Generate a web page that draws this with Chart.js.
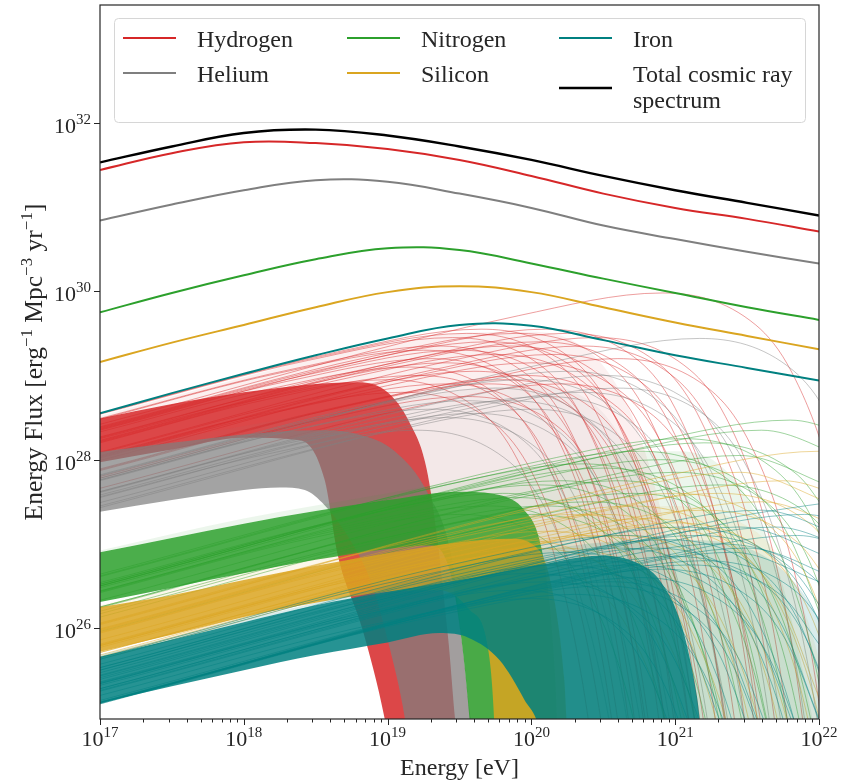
<!DOCTYPE html>
<html>
<head>
<meta charset="utf-8">
<script src="https://cdn.jsdelivr.net/npm/chart.js@4.4.1/dist/chart.umd.min.js"></script>
<style>
  html, body { margin: 0; padding: 0; background: #fff; }
  #chart { display: block; }
</style>
</head>
<body>
<canvas id="chart" width="841" height="783"></canvas>
<script>
// ------------------------------------------
// DATA (all values are log10: energy in eV, flux in erg^-1 Mpc^-3 yr^-1)
// ------------------------------------------

// smooth spectra
const logEnergy    = [17, 17.5, 18, 18.5, 19, 19.5, 20, 20.5, 21, 21.5, 22];
const totalFlux    = [31.53, 31.72, 31.88, 31.92, 31.85, 31.72, 31.56, 31.37, 31.20, 31.05, 30.90];
const hydrogenFlux = [31.44, 31.64, 31.77, 31.76, 31.69, 31.56, 31.37, 31.16, 30.99, 30.86, 30.71];
const heliumFlux   = [30.84, 31.03, 31.20, 31.32, 31.30, 31.16, 30.99, 30.78, 30.62, 30.47, 30.33];
const nitrogenFlux = [29.75, 29.98, 30.19, 30.38, 30.51, 30.49, 30.33, 30.15, 29.98, 29.81, 29.66];
const siliconFlux  = [29.16, 29.39, 29.60, 29.81, 29.99, 30.06, 29.99, 29.81, 29.63, 29.47, 29.31];
const ironFlux     = [28.55, 28.79, 29.02, 29.24, 29.44, 29.60, 29.59, 29.42, 29.24, 29.09, 28.94];

// where the scattered single-source spectra of each element are spread: outer outline
const hydrogenHalo = [17,28.52, 18,28.98, 18.5,29.2, 19,29.38, 19.5,29.5, 20,29.52, 20.3,29.4, 20.55,29.0, 20.75,28.3, 20.9,27.4, 21.05,26.1, 21.15,24.9, 22.5,23.5];
const heliumHalo   = [17,28.1, 18,28.4, 18.5,28.55, 19,28.7, 19.5,28.82, 20,28.88, 20.3,28.8, 20.55,28.45, 20.75,27.8, 20.9,26.8, 21.05,25.5, 21.15,24.5, 22.5,23.5];
const nitrogenHalo = [17,26.92, 18,27.3, 19,27.6, 19.5,27.75, 20,27.9, 20.5,28.05, 21,28.1, 21.3,27.95, 21.55,27.4, 21.75,26.5, 21.9,25.4, 22.0,24.6, 22.5,23.5];
const siliconHalo  = [17,26.27, 18,26.65, 19,26.97, 19.5,27.1, 20,27.25, 20.5,27.4, 21,27.45, 21.4,27.3, 21.7,26.9, 21.9,26.2, 22.05,25.3, 22.15,24.5, 22.5,23.5];
const ironHalo     = [17,25.68, 18,26.1, 19,26.5, 19.5,26.7, 20,26.9, 20.5,27.02, 21,27.05, 21.5,26.95, 21.8,26.6, 22.0,26.1, 22.2,25.3, 22.5,23.5];

// dense bundles of single-source spectra: upper and lower outline, pairs of (logE, logF)
const hydrogenBandTop    = [17,28.49, 17.5,28.66, 18,28.80, 18.5,28.90, 18.8,28.92, 19.0,28.80, 19.15,28.45, 19.27,27.9, 19.35,27.0, 19.42,25.9, 19.5,24.6, 22.5,24.0];
const hydrogenBandBottom = [17,27.97, 17.5,28.12, 18,28.26, 18.389,28.23, 18.5625,27.76, 18.653,26.87, 18.826,25.98, 18.979,24.93, 19.028,24.43, 22.5,23.9];
const heliumBandTop      = [17,28.09, 17.5,28.20, 18,28.30, 18.5,28.35, 18.8,28.30, 19.05,28.10, 19.28,27.60, 19.45,26.80, 19.52,25.80, 19.6,24.80, 22.5,24.0];
const heliumBandBottom   = [17,27.38, 17.5,27.52, 18,27.64, 18.25,27.67, 18.424,27.64, 18.562,27.46, 18.72,27.10, 18.88,26.57, 19.0,25.86, 19.12,24.93, 19.16,24.43, 22.5,23.9];
const nitrogenBandTop    = [17,26.90, 17.5,27.07, 18,27.24, 18.5,27.39, 19,27.52, 19.5,27.62, 19.778,27.58, 19.951,27.40, 20.056,27.05, 20.125,26.33, 20.167,25.38, 20.194,24.43, 22.5,24.0];
const nitrogenBandBottom = [17,26.31, 17.5,26.48, 18,26.65, 18.5,26.81, 19,26.94, 19.292,26.98, 19.431,26.69, 19.514,25.86, 19.569,24.93, 19.59,24.43, 22.5,23.9];
const siliconBandTop     = [17,26.25, 17.5,26.39, 18,26.57, 18.5,26.74, 19,26.89, 19.5,27.02, 19.847,27.06, 20.056,26.92, 20.16,26.33, 20.229,25.38, 20.264,24.43, 22.5,24.0];
const siliconBandBottom  = [17,25.72, 17.5,25.92, 18,26.13, 18.5,26.30, 19,26.43, 19.361,26.45, 19.569,26.22, 19.70,25.74, 19.74,24.93, 19.75,24.43, 22.5,23.9];
const ironBandTop        = [17,25.66, 17.5,25.86, 18,26.07, 18.5,26.27, 19,26.43, 19.5,26.57, 20.056,26.75, 20.472,26.86, 20.7,26.8, 20.9,26.55, 21.05,26.0, 21.15,25.2, 21.2,24.6, 22.5,24.0];
const ironBandBottom     = [17,25.11, 17.5,25.31, 18,25.50, 18.5,25.68, 19,25.83, 19.361,25.94, 19.569,25.88, 19.778,25.62, 19.951,25.15, 20.056,24.79, 20.09,24.43, 22.5,23.9];

// the spread-out single-source spectra (each one a list of logE, logF pairs)
const hydrogenArcs = [
  [17,28.42, 19.91,29.71, 20.91,29.98, 21.56,29.60, 21.81,29.04, 22.06,27.95, 22.26,26.44],
  [17,28.35, 19.1,29.28, 20.1,29.55, 20.75,29.17, 21.0,28.61, 21.25,27.52, 21.45,26.01, 21.65,23.55],
  [17,28.39, 18.9,29.23, 19.9,29.5, 20.55,29.12, 20.8,28.56, 21.05,27.47, 21.25,25.96, 21.45,23.5],
  [17,28.38, 18.7,29.13, 19.7,29.4, 20.35,29.02, 20.6,28.46, 20.85,27.37, 21.05,25.86, 21.25,23.4],
  [17,28.37, 18.5,29.03, 19.5,29.3, 20.15,28.92, 20.4,28.36, 20.65,27.27, 20.85,25.76, 21.05,23.3],
  [17,28.04, 19.35,29.08, 20.35,29.35, 21.0,28.97, 21.25,28.41, 21.5,27.32, 21.7,25.81, 21.9,23.35],
  [17,28.36, 18.3,28.93, 19.3,29.2, 19.95,28.82, 20.2,28.26, 20.45,27.17, 20.65,25.66, 20.85,23.2],
  [17,28.08, 18.6,28.78, 19.6,29.05, 20.25,28.67, 20.5,28.11, 20.75,27.02, 20.95,25.51, 21.15,23.05],
  [17,27.99, 19.0,28.88, 20.0,29.15, 20.65,28.77, 20.9,28.21, 21.15,27.12, 21.35,25.61, 21.55,23.15],
  [17,28.02, 18.4,28.63, 19.4,28.9, 20.05,28.52, 20.3,27.96, 20.55,26.87, 20.75,25.36, 20.95,22.9],
  [17,27.89, 18.8,28.68, 19.8,28.95, 20.45,28.57, 20.7,28.01, 20.95,26.92, 21.15,25.41, 21.35,22.95],
  [17,28.2, 18.2,28.73, 19.2,29.0, 19.85,28.62, 20.1,28.06, 20.35,26.97, 20.55,25.46, 20.75,23.0],
  [17,27.78, 19.6,28.93, 20.6,29.2, 21.25,28.82, 21.5,28.26, 21.75,27.17, 21.95,25.66, 22.15,23.2],
  [17,28.05, 18.1,28.53, 19.1,28.8, 19.75,28.42, 20.0,27.86, 20.25,26.77, 20.45,25.26, 20.65,22.8],
  [17,28.54, 18.45,29.18, 19.45,29.45, 20.1,29.07, 20.35,28.51, 20.6,27.42, 20.8,25.91, 21.0,23.45],
  [17,28.21, 18.75,28.98, 19.75,29.25, 20.4,28.87, 20.65,28.31, 20.9,27.22, 21.1,25.71, 21.3,23.25],
  [17,27.66, 19.2,28.63, 20.2,28.9, 20.85,28.52, 21.1,27.96, 21.35,26.87, 21.55,25.36, 21.75,22.9],
  [17,28.25, 18.0,28.68, 19.0,28.95, 19.65,28.57, 19.9,28.01, 20.15,26.92, 20.35,25.41, 20.55,22.95],
  [17,28.55, 18.65,29.28, 19.65,29.55, 20.3,29.17, 20.55,28.61, 20.8,27.52, 21.0,26.01, 21.2,23.55],
  [17,28.49, 18.35,29.08, 19.35,29.35, 20.0,28.97, 20.25,28.41, 20.5,27.32, 20.7,25.81, 20.9,23.35],
  [17,28.22, 19.05,29.13, 20.05,29.4, 20.7,29.02, 20.95,28.46, 21.2,27.37, 21.4,25.86, 21.6,23.4],
  [17,27.8, 18.55,28.48, 19.55,28.75, 20.2,28.37, 20.45,27.81, 20.7,26.72, 20.9,25.21, 21.1,22.75],
  [17,28.48, 18.25,29.03, 19.25,29.3, 19.9,28.92, 20.15,28.36, 20.4,27.27, 20.6,25.76, 20.8,23.3],
  [17,28.26, 18.85,29.08, 19.85,29.35, 20.5,28.97, 20.75,28.41, 21.0,27.32, 21.2,25.81, 21.4,23.35],
  [17,28.23, 19.25,29.23, 20.25,29.5, 20.9,29.12, 21.15,28.56, 21.4,27.47, 21.6,25.96, 21.8,23.5],
  [17,28.33, 18.15,28.83, 19.15,29.1, 19.8,28.72, 20.05,28.16, 20.3,27.07, 20.5,25.56, 20.7,23.1],
  [17,27.87, 18.95,28.73, 19.95,29.0, 20.6,28.62, 20.85,28.06, 21.1,26.97, 21.3,25.46, 21.5,23.0],
  [17,28.09, 19.45,29.18, 20.45,29.45, 21.1,29.07, 21.35,28.51, 21.6,27.42, 21.8,25.91, 22.0,23.45],
  [17,28.27, 18.4,28.88, 19.4,29.15, 20.05,28.77, 20.3,28.21, 20.55,27.12, 20.75,25.61, 20.95,23.15],
  [17,27.88, 18.7,28.63, 19.7,28.9, 20.35,28.52, 20.6,27.96, 20.85,26.87, 21.05,25.36, 21.25,22.9],
  [17,28.03, 19.15,28.98, 20.15,29.25, 20.8,28.87, 21.05,28.31, 21.3,27.22, 21.5,25.71, 21.7,23.25],
  [17,28.55, 18.55,29.23, 19.55,29.5, 20.2,29.12, 20.45,28.56, 20.7,27.47, 20.9,25.96, 21.1,23.5]
];
const heliumArcs = [
  [17,27.76, 20.17,29.17, 21.17,29.44, 21.82,29.06, 22.07,28.5, 22.32,27.41],
  [17,27.55, 19.1,28.48, 20.1,28.75, 20.75,28.37, 21.0,27.81, 21.25,26.72, 21.45,25.21, 21.65,22.75],
  [17,27.61, 18.85,28.43, 19.85,28.7, 20.5,28.32, 20.75,27.76, 21.0,26.67, 21.2,25.16, 21.4,22.7],
  [17,27.49, 19.35,28.53, 20.35,28.8, 21.0,28.42, 21.25,27.86, 21.5,26.77, 21.7,25.26, 21.9,22.8],
  [17,27.58, 18.6,28.28, 19.6,28.55, 20.25,28.17, 20.5,27.61, 20.75,26.52, 20.95,25.01, 21.15,22.55],
  [17,27.62, 18.4,28.23, 19.4,28.5, 20.05,28.12, 20.3,27.56, 20.55,26.47, 20.75,24.96, 20.95,22.5],
  [17,27.43, 19.6,28.58, 20.6,28.85, 21.25,28.47, 21.5,27.91, 21.75,26.82, 21.95,25.31, 22.15,22.85],
  [17,27.56, 18.2,28.08, 19.2,28.35, 19.85,27.97, 20.1,27.41, 20.35,26.32, 20.55,24.81, 20.75,22.35],
  [17,27.82, 18.95,28.68, 19.95,28.95, 20.6,28.57, 20.85,28.01, 21.1,26.92, 21.3,25.41, 21.5,22.95],
  [17,27.78, 19.25,28.78, 20.25,29.05, 20.9,28.67, 21.15,28.11, 21.4,27.02, 21.6,25.51, 21.8,23.05],
  [17,27.81, 18.75,28.58, 19.75,28.85, 20.4,28.47, 20.65,27.91, 20.9,26.82, 21.1,25.31, 21.3,22.85],
  [17,27.62, 19.5,28.73, 20.5,29.0, 21.15,28.62, 21.4,28.06, 21.65,26.97, 21.85,25.46, 22.05,23.0],
  [17,27.75, 18.55,28.43, 19.55,28.7, 20.2,28.32, 20.45,27.76, 20.7,26.67, 20.9,25.16, 21.1,22.7],
  [17,27.45, 19.0,28.33, 20.0,28.6, 20.65,28.22, 20.9,27.66, 21.15,26.57, 21.35,25.06, 21.55,22.6],
  [17,27.76, 18.3,28.33, 19.3,28.6, 19.95,28.22, 20.2,27.66, 20.45,26.57, 20.65,25.06, 20.85,22.6]
];
const nitrogenArcs = [
  [17,26.5, 20.8,28.2, 21.8,28.47, 22.45,28.09],
  [17,26.5, 20.2,27.93, 21.2,28.2, 21.85,27.82, 22.1,27.26],
  [17,26.44, 19.9,27.73, 20.9,28.0, 21.55,27.62, 21.8,27.06, 22.05,25.97],
  [17,26.52, 19.5,27.63, 20.5,27.9, 21.15,27.52, 21.4,26.96, 21.65,25.87, 21.85,24.36],
  [17,26.5, 19.2,27.48, 20.2,27.75, 20.85,27.37, 21.1,26.81, 21.35,25.72, 21.55,24.21],
  [17,26.13, 19.7,27.33, 20.7,27.6, 21.35,27.22, 21.6,26.66, 21.85,25.57, 22.05,24.06],
  [17,26.44, 18.9,27.28, 19.9,27.55, 20.55,27.17, 20.8,26.61, 21.05,25.52, 21.25,24.01],
  [17,26.2, 19.0,27.08, 20.0,27.35, 20.65,26.97, 20.9,26.41, 21.15,25.32, 21.35,23.81],
  [17,26.25, 20.0,27.58, 21.0,27.85, 21.65,27.47, 21.9,26.91, 22.15,25.82],
  [17,26.43, 18.7,27.18, 19.7,27.45, 20.35,27.07, 20.6,26.51, 20.85,25.42, 21.05,23.91],
  [17,26.17, 19.4,27.23, 20.4,27.5, 21.05,27.12, 21.3,26.56, 21.55,25.47, 21.75,23.96],
  [17,26.24, 20.45,27.78, 21.45,28.05, 22.1,27.67],
  [17,26.42, 18.5,27.08, 19.5,27.35, 20.15,26.97, 20.4,26.41, 20.65,25.32, 20.85,23.81],
  [17,26.52, 19.05,27.43, 20.05,27.7, 20.7,27.32, 20.95,26.76, 21.2,25.67, 21.4,24.16],
  [17,26.48, 20.6,28.08, 21.6,28.35, 22.25,27.97],
  [17,26.61, 19.75,27.83, 20.75,28.1, 21.4,27.72, 21.65,27.16, 21.9,26.07, 22.1,24.56],
  [17,26.64, 19.35,27.68, 20.35,27.95, 21.0,27.57, 21.25,27.01, 21.5,25.92, 21.7,24.41],
  [17,26.62, 20.05,27.98, 21.05,28.25, 21.7,27.87, 21.95,27.31, 22.2,26.22],
  [17,26.54, 18.8,27.33, 19.8,27.6, 20.45,27.22, 20.7,26.66, 20.95,25.57, 21.15,24.06],
  [17,26.33, 19.6,27.48, 20.6,27.75, 21.25,27.37, 21.5,26.81, 21.75,25.72, 21.95,24.21],
  [17,25.96, 20.3,27.43, 21.3,27.7, 21.95,27.32, 22.2,26.76],
  [17,26.25, 19.1,27.18, 20.1,27.45, 20.75,27.07, 21.0,26.51, 21.25,25.42, 21.45,23.91]
];
const siliconArcs = [
  [17,26.05, 21.0,27.83, 22.0,28.1, 22.65,27.72],
  [17,25.86, 20.3,27.33, 21.3,27.6, 21.95,27.22, 22.2,26.66],
  [17,25.79, 19.8,27.03, 20.8,27.3, 21.45,26.92, 21.7,26.36, 21.95,25.27, 22.15,23.76],
  [17,25.77, 19.4,26.83, 20.4,27.1, 21.05,26.72, 21.3,26.16, 21.55,25.07, 21.75,23.56],
  [17,25.8, 19.0,26.68, 20.0,26.95, 20.65,26.57, 20.9,26.01, 21.15,24.92, 21.35,23.41],
  [17,25.65, 20.0,26.98, 21.0,27.25, 21.65,26.87, 21.9,26.31, 22.15,25.22],
  [17,25.68, 19.6,26.83, 20.6,27.1, 21.25,26.72, 21.5,26.16, 21.75,25.07, 21.95,23.56],
  [17,25.71, 19.2,26.68, 20.2,26.95, 20.85,26.57, 21.1,26.01, 21.35,24.92, 21.55,23.41],
  [17,25.63, 20.6,27.23, 21.6,27.5, 22.25,27.12],
  [17,25.79, 18.8,26.58, 19.8,26.85, 20.45,26.47, 20.7,25.91, 20.95,24.82, 21.15,23.31],
  [17,25.97, 19.5,27.08, 20.5,27.35, 21.15,26.97, 21.4,26.41, 21.65,25.32, 21.85,23.81],
  [17,25.99, 20.0,27.33, 21.0,27.6, 21.65,27.22, 21.9,26.66, 22.15,25.57],
  [17,26.06, 19.3,27.08, 20.3,27.35, 20.95,26.97, 21.2,26.41, 21.45,25.32, 21.65,23.81],
  [17,25.81, 20.75,27.48, 21.75,27.75, 22.4,27.37],
  [17,25.98, 19.7,27.18, 20.7,27.45, 21.35,27.07, 21.6,26.51, 21.85,25.42, 22.05,23.91],
  [17,25.71, 20.2,27.13, 21.2,27.4, 21.85,27.02, 22.1,26.46],
  [17,25.95, 19.1,26.88, 20.1,27.15, 20.75,26.77, 21.0,26.21, 21.25,25.12, 21.45,23.61],
  [17,26.04, 20.45,27.58, 21.45,27.85, 22.1,27.47],
  [17,25.66, 19.85,26.93, 20.85,27.2, 21.5,26.82, 21.75,26.26, 22.0,25.17],
  [17,25.94, 18.9,26.78, 19.9,27.05, 20.55,26.67, 20.8,26.11, 21.05,25.02, 21.25,23.51]
];
const ironArcs = [
  [17,25.36, 21.3,27.28, 22.3,27.55],
  [17,25.28, 20.7,26.93, 21.7,27.2, 22.35,26.82],
  [17,25.26, 20.3,26.73, 21.3,27.0, 21.95,26.62, 22.2,26.06],
  [17,25.25, 20.0,26.58, 21.0,26.85, 21.65,26.47, 21.9,25.91, 22.15,24.82],
  [17,25.28, 19.7,26.48, 20.7,26.75, 21.35,26.37, 21.6,25.81, 21.85,24.72],
  [17,25.32, 19.4,26.38, 20.4,26.65, 21.05,26.27, 21.3,25.71, 21.55,24.62],
  [17,25.35, 19.1,26.28, 20.1,26.55, 20.75,26.17, 21.0,25.61, 21.25,24.52],
  [17,25.12, 20.5,26.68, 21.5,26.95, 22.15,26.57],
  [17,25.14, 19.9,26.43, 20.9,26.7, 21.55,26.32, 21.8,25.76, 22.05,24.67],
  [17,25.12, 19.5,26.23, 20.5,26.5, 21.15,26.12, 21.4,25.56, 21.65,24.47],
  [17,25.11, 20.2,26.53, 21.2,26.8, 21.85,26.42, 22.1,25.86],
  [17,25.34, 18.9,26.18, 19.9,26.45, 20.55,26.07, 20.8,25.51, 21.05,24.42],
  [17,25.11, 19.3,26.13, 20.3,26.4, 20.95,26.02, 21.2,25.46, 21.45,24.37],
  [17,25.11, 20.85,26.83, 21.85,27.1, 22.5,26.72],
  [17,25.11, 19.75,26.33, 20.75,26.6, 21.4,26.22, 21.65,25.66, 21.9,24.57],
  [17,25.2, 19.0,26.08, 20.0,26.35, 20.65,25.97, 20.9,25.41, 21.15,24.32],
  [17,25.43, 20.15,26.83, 21.15,27.1, 21.8,26.72, 22.05,26.16],
  [17,25.53, 19.6,26.68, 20.6,26.95, 21.25,26.57, 21.5,26.01, 21.75,24.92, 21.95,23.41],
  [17,25.12, 20.4,26.63, 21.4,26.9, 22.05,26.52],
  [17,25.5, 19.2,26.48, 20.2,26.75, 20.85,26.37, 21.1,25.81, 21.35,24.72],
  [17,25.41, 19.85,26.68, 20.85,26.95, 21.5,26.57, 21.75,26.01, 22.0,24.92],
  [17,25.53, 20.6,27.13, 21.6,27.4, 22.25,27.02],
  [17,25.1, 19.55,26.28, 20.55,26.55, 21.2,26.17, 21.45,25.61, 21.7,24.52],
  [17,25.57, 20.05,26.93, 21.05,27.2, 21.7,26.82, 21.95,26.26, 22.2,25.17],
  [17,25.63, 19.25,26.63, 20.25,26.9, 20.9,26.52, 21.15,25.96, 21.4,24.87, 21.6,23.36],
  [17,25.47, 19.95,26.78, 20.95,27.05, 21.6,26.67, 21.85,26.11, 22.1,25.02],
  [17,25.39, 20.45,26.93, 21.45,27.2, 22.1,26.82],
  [17,25.44, 19.45,26.53, 20.45,26.8, 21.1,26.42, 21.35,25.86, 21.6,24.77],
  [17,25.65, 19.65,26.83, 20.65,27.1, 21.3,26.72, 21.55,26.16, 21.8,25.07, 22.0,23.56],
  [17,25.1, 20.1,26.48, 21.1,26.75, 21.75,26.37, 22.0,25.81],
  [17,25.5, 19.0,26.38, 20.0,26.65, 20.65,26.27, 20.9,25.71, 21.15,24.62],
  [17,25.34, 20.9,27.08, 21.9,27.35, 22.55,26.97]
];

// axes
const xRange = [17, 22];          // log10 eV
const yRange = [24.92, 33.4];     // log10 flux
const xTickExponents = [17, 18, 19, 20, 21, 22];
const yTickExponents = [26, 28, 30, 32];
const minorMultipliers = [2, 3, 4, 5, 6, 7, 8, 9];

const speciesNames  = ['Hydrogen', 'Helium', 'Nitrogen', 'Silicon', 'Iron'];
const speciesColors = ['214,39,40', '127,127,127', '44,160,44', '218,165,32', '0,128,128'];
const haloAlpha     = [0.07, 0.07, 0.09, 0.09, 0.15];
const bandAlpha     = [0.85, 0.72, 0.85, 0.85, 0.85];
const speciesFlux   = [hydrogenFlux, heliumFlux, nitrogenFlux, siliconFlux, ironFlux];
const halos         = [hydrogenHalo, heliumHalo, nitrogenHalo, siliconHalo, ironHalo];
const bandTops      = [hydrogenBandTop, heliumBandTop, nitrogenBandTop, siliconBandTop, ironBandTop];
const bandBottoms   = [hydrogenBandBottom, heliumBandBottom, nitrogenBandBottom, siliconBandBottom, ironBandBottom];
const arcSets       = [hydrogenArcs, heliumArcs, nitrogenArcs, siliconArcs, ironArcs];

// ------------------------------------------
// BUILD DATASETS
// ------------------------------------------
function pairsToPoints(pairs) {
    const pts = [];
    for (let i = 0; i < pairs.length; i += 2) {
        pts.push({ x: 10 ** pairs[i], y: 10 ** pairs[i + 1] });
    }
    return pts;
}
function curveToPoints(flux) {
    return logEnergy.map((e, i) => ({ x: 10 ** e, y: 10 ** flux[i] }));
}

const hidden = { borderWidth: 0, borderColor: 'rgba(0,0,0,0)' };
const datasets = [];
speciesNames.forEach((name, i) => {
    const rgb = speciesColors[i];
    const layer = 5 - i;   // hydrogen at the bottom, iron above it
    // faint wash between the outer outline and the dense bundle
    datasets.push({ label: name + ' spread', data: pairsToPoints(halos[i]), ...hidden,
        backgroundColor: `rgba(${rgb},${haloAlpha[i]})`, fill: '+1', order: layer });
    // dense bundle
    datasets.push({ label: name + ' bundle', data: pairsToPoints(bandTops[i]), ...hidden,
        backgroundColor: `rgba(${rgb},${bandAlpha[i]})`, fill: '+1', order: layer });
    datasets.push({ label: name + ' bundle edge', data: pairsToPoints(bandBottoms[i]), ...hidden,
        fill: false, order: layer });
    arcSets[i].forEach(arc => {
        datasets.push({ label: name + ' source', data: pairsToPoints(arc),
            borderWidth: 0.9, borderColor: `rgba(${rgb},0.5)`, fill: false, order: layer });
    });
});
// the summed spectra go on top of everything
const smooth = { cubicInterpolationMode: 'default', tension: 0.4, fill: false, order: 0 };
speciesNames.forEach((name, i) => {
    datasets.push({ label: name, data: curveToPoints(speciesFlux[i]),
        borderWidth: 2, borderColor: `rgb(${speciesColors[i]})`, ...smooth });
});
datasets.push({ label: 'Total cosmic ray spectrum', data: curveToPoints(totalFlux),
    borderWidth: 2.4, borderColor: '#000', ...smooth });

// ------------------------------------------
// FRAME, TICKS, LABELS AND LEGEND (drawn by hand, LaTeX-ish style)
// ------------------------------------------
const TEXT_COLOR = '#262626';
const MAIN_FONT = '24px "Liberation Serif", "DejaVu Serif", serif';
const YTITLE_FONT = '25.5px "Liberation Serif", "DejaVu Serif", serif';
const TICK_FONT = '22px "Liberation Serif", "DejaVu Serif", serif';
const SUP_FONT  = '15px "Liberation Serif", "DejaVu Serif", serif';
const TITLE_SUP_FONT = '17px "Liberation Serif", "DejaVu Serif", serif';

function drawPower(ctx, exp, anchorX, baseline, align) {
    ctx.font = TICK_FONT;
    const wBase = ctx.measureText('10').width;
    ctx.font = SUP_FONT;
    const wExp = ctx.measureText(String(exp)).width;
    const left = align === 'right' ? anchorX - wBase - wExp : anchorX - (wBase + wExp) / 2;
    ctx.font = TICK_FONT;
    ctx.fillText('10', left, baseline);
    ctx.font = SUP_FONT;
    ctx.fillText(String(exp), left + wBase, baseline - 9);
}

// pieces: [text, isSuperscript]
function drawRich(ctx, pieces, cx, baseline, font) {
    const widths = pieces.map(([t, sup]) => {
        ctx.font = sup ? TITLE_SUP_FONT : font;
        return ctx.measureText(t).width;
    });
    let x = cx - widths.reduce((s, w) => s + w, 0) / 2;
    pieces.forEach(([t, sup], i) => {
        ctx.font = sup ? TITLE_SUP_FONT : font;
        ctx.fillText(t, x, sup ? baseline - 10 : baseline);
        x += widths[i];
    });
}

const yTitle = [['Energy Flux [erg', false], ['\u22121', true], [' Mpc', false], ['\u22123', true], [' yr', false], ['\u22121', true], [']', false]];
const xTitle = [['Energy [eV]', false]];

// legend: columns of [label lines, color]
const legendColumns = [
    [[['Hydrogen'], 'rgb(214,39,40)'], [['Helium'], 'rgb(127,127,127)']],
    [[['Nitrogen'], 'rgb(44,160,44)'], [['Silicon'], 'rgb(218,165,32)']],
    [[['Iron'], 'rgb(0,128,128)'], [['Total cosmic ray', 'spectrum'], '#000']]
];

const decorations = {
    id: 'decorations',
    afterDraw(chart) {
        const { ctx, chartArea: a, scales: { x, y } } = chart;
        ctx.save();
        ctx.fillStyle = TEXT_COLOR;
        ctx.strokeStyle = TEXT_COLOR;
        ctx.textAlign = 'left';
        ctx.textBaseline = 'alphabetic';

        // frame
        ctx.lineWidth = 1.2;
        ctx.strokeRect(a.left, a.top, a.right - a.left, a.bottom - a.top);

        // ticks, pointing out
        ctx.lineWidth = 1;
        ctx.beginPath();
        xTickExponents.forEach(e => {
            const px = Math.round(x.getPixelForValue(10 ** e)) + 0.5;
            ctx.moveTo(px, a.bottom); ctx.lineTo(px, a.bottom + 6);
            if (e < xRange[1]) {
                minorMultipliers.forEach(m => {
                    const mx = Math.round(x.getPixelForValue(m * 10 ** e)) + 0.5;
                    ctx.moveTo(mx, a.bottom); ctx.lineTo(mx, a.bottom + 3.5);
                });
            }
        });
        yTickExponents.forEach(e => {
            const py = Math.round(y.getPixelForValue(10 ** e)) + 0.5;
            ctx.moveTo(a.left, py); ctx.lineTo(a.left - 6, py);
        });
        ctx.stroke();

        // tick labels
        xTickExponents.forEach(e => drawPower(ctx, e, x.getPixelForValue(10 ** e), a.bottom + 27, 'center'));
        yTickExponents.forEach(e => drawPower(ctx, e, a.left - 9, y.getPixelForValue(10 ** e) + 10, 'right'));

        // axis titles
        drawRich(ctx, xTitle, (a.left + a.right) / 2, a.bottom + 56, MAIN_FONT);
        ctx.save();
        ctx.translate(42, (a.top + a.bottom) / 2);
        ctx.rotate(-Math.PI / 2);
        drawRich(ctx, yTitle, 0, 0, YTITLE_FONT);
        ctx.restore();

        // legend box
        const box = { x: 114.5, y: 18.5, w: 691, h: 104 };
        ctx.beginPath();
        ctx.roundRect(box.x, box.y, box.w, box.h, 4);
        ctx.fillStyle = 'rgba(255,255,255,0.85)';
        ctx.fill();
        ctx.strokeStyle = '#d6d6d6';
        ctx.lineWidth = 1;
        ctx.stroke();

        const colX = [123, 347, 559];
        const rowY = [38, 73];
        ctx.font = MAIN_FONT;
        legendColumns.forEach((col, ci) => {
            col.forEach(([lines, color], ri) => {
                const lineY = lines.length > 1 ? rowY[ri] + 15 : rowY[ri];
                ctx.strokeStyle = color;
                ctx.lineWidth = color === '#000' ? 2.6 : 2;
                ctx.beginPath();
                ctx.moveTo(colX[ci], lineY);
                ctx.lineTo(colX[ci] + 53, lineY);
                ctx.stroke();
                ctx.fillStyle = TEXT_COLOR;
                lines.forEach((t, li) => ctx.fillText(t, colX[ci] + 74, rowY[ri] + 9 + li * 26));
            });
        });
        ctx.restore();
    }
};

// ------------------------------------------
// CHART
// ------------------------------------------
new Chart(document.getElementById('chart'), {
    type: 'line',
    data: { datasets },
    options: {
        responsive: false,
        animation: false,
        events: [],
        layout: { padding: { left: 100, right: 22, top: 5, bottom: 64 } },
        elements: {
            point: { radius: 0 },
            line: { cubicInterpolationMode: 'monotone', capBezierPoints: false }
        },
        scales: {
            x: { type: 'logarithmic', min: 10 ** xRange[0], max: 10 ** xRange[1], display: false },
            y: { type: 'logarithmic', min: 10 ** yRange[0], max: 10 ** yRange[1], display: false }
        },
        plugins: {
            legend: { display: false },
            tooltip: { enabled: false }
        }
    },
    plugins: [decorations]
});
</script>
</body>
</html>
